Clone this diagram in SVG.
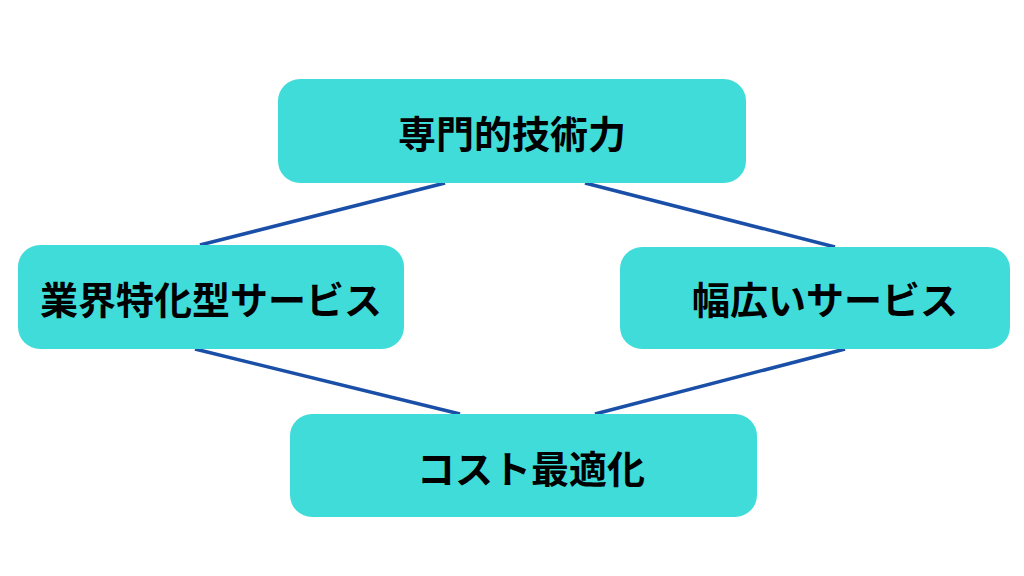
<svg xmlns="http://www.w3.org/2000/svg" width="1024" height="576" viewBox="0 0 1024 576">
<style>
.n{fill:#40dcd9}
.t{font-family:"Noto Sans CJK JP","Noto Sans",sans-serif;font-weight:bold;font-size:38px;fill:#000;text-anchor:middle;dominant-baseline:central}
.c{stroke:#1a4fa8;stroke-width:3.5;fill:none}
</style>
<rect width="1024" height="576" fill="#fff"/>
<g id="connectors">
<line class="c" x1="445" y1="183" x2="200" y2="245"/>
<line class="c" x1="585" y1="183" x2="835" y2="247"/>
<line class="c" x1="195" y1="349" x2="460" y2="414"/>
<line class="c" x1="845" y1="349" x2="595" y2="414"/>
</g>
<g id="top"><rect class="n" x="278" y="79" width="468" height="104" rx="22"/><text class="t" x="512" y="131">専門的技術力</text></g>
<g id="left"><rect class="n" x="18" y="245" width="386" height="104" rx="22"/><text class="t" x="211" y="297">業界特化型サービス</text></g>
<g id="right"><rect class="n" x="620" y="247" width="390" height="102" rx="22"/><text class="t" x="825" y="297">幅広いサービス</text></g>
<g id="bottom"><rect class="n" x="290" y="414" width="467" height="103" rx="22"/><text class="t" x="531" y="466">コスト最適化</text></g>
</svg>
